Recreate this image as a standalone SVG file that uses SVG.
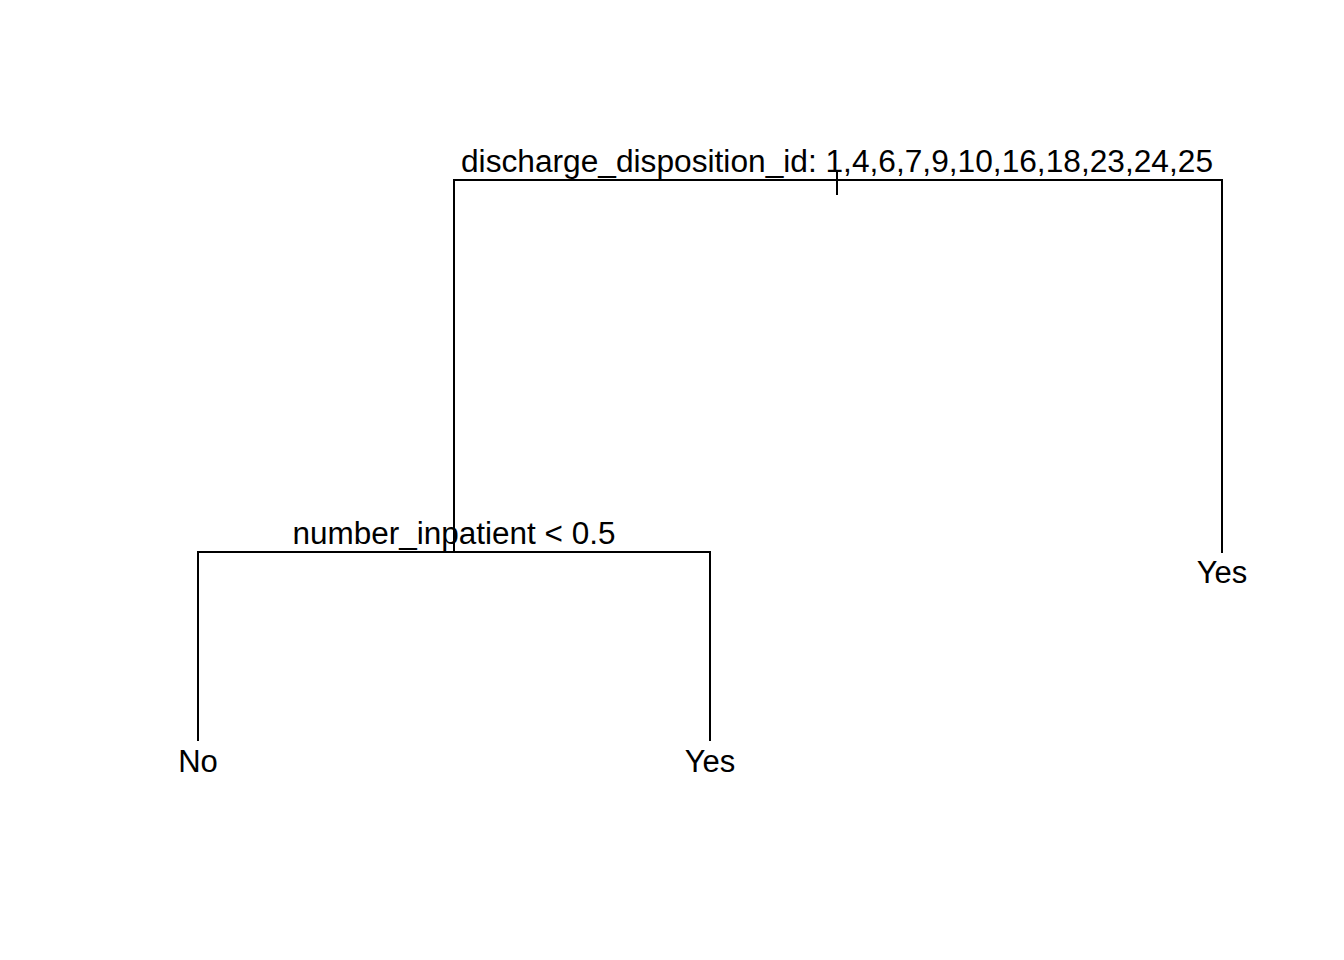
<svg xmlns="http://www.w3.org/2000/svg" width="1344" height="960" viewBox="0 0 1344 960">
<style>
.l{stroke:#000;stroke-width:2;fill:none;stroke-linecap:butt}
.t{font-family:"Liberation Sans",Arial,sans-serif;font-size:31px;fill:#000;text-anchor:middle}
</style>
<rect width="1344" height="960" fill="#fff"/>
<g id="connectors">
<path class="l" d="M454,552 V180 H1222 V553"/>
<path class="l" d="M837,171 V195"/>
<path class="l" d="M198,741 V552 H710 V741"/>
</g>
<g id="root"><text class="t" x="837" y="172" textLength="752" lengthAdjust="spacingAndGlyphs">discharge_disposition_id: 1,4,6,7,9,10,16,18,23,24,25</text></g>
<g id="split2"><text class="t" x="454" y="544" textLength="323" lengthAdjust="spacingAndGlyphs">number_inpatient &lt; 0.5</text></g>
<g id="leaf-no"><text class="t" x="198" y="772">No</text></g>
<g id="leaf-yes1"><text class="t" x="710" y="772">Yes</text></g>
<g id="leaf-yes2"><text class="t" x="1222" y="583">Yes</text></g>
</svg>
